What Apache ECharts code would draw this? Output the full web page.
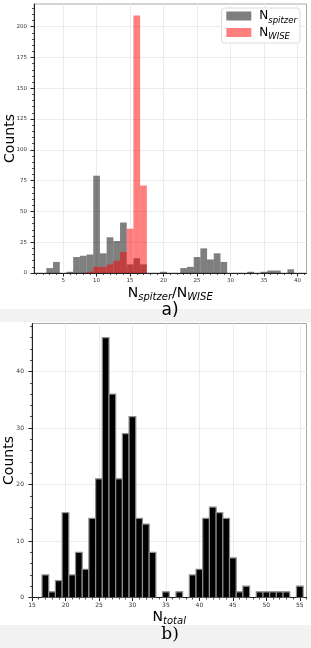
<!DOCTYPE html>
<html><head><meta charset="utf-8">
<script src="https://cdn.jsdelivr.net/npm/echarts@6/dist/echarts.min.js"></script>
<style>html,body{margin:0;padding:0;background:#fff}#c{width:311px;height:648px}</style>
</head><body><div id="c"></div>
<script>
// ---------- Panel a) : N_spitzer / N_WISE histogram (bin width 1, centres) ----------
const binWidth = 1;
const binsA = [3,4,5,6,7,8,9,10,11,12,13,14,15,16,17,18,19,20,21,22,23,24,25,26,27,28,29,30,31,32,33,34,35,36,37,38,39];
const spitzerCounts = [4,9,0,1,13,14,15,79,16,29,26,41,7,12,7,0,0,1,0,0,4,5,13,20,11,16,9,0,0,0,1,0,1,2,2,0,3];
const wiseBins = [9,10,11,12,13,14,15,16,17];
const wiseCounts = [1,5,5,7,10,17,36,209,71];

// ---------- Panel b) : N_total histogram ----------
const binsB = [17,18,19,20,21,22,23,24,25,26,27,28,29,30,31,32,33,34,35,36,37,38,39,40,41,42,43,44,45,46,47,48,49,50,51,52,53,54,55];
const totalCounts = [4,1,3,15,4,8,5,14,21,46,36,21,29,32,14,13,8,0,1,0,1,0,4,5,14,16,15,14,7,1,2,0,1,1,1,1,1,0,2];

// ---------- tick labels ----------
const topXTicks = [5,10,15,20,25,30,35,40];
const topYTicks = [0,25,50,75,100,125,150,175,200];
const botXTicks = [15,20,25,30,35,40,45,50,55];
const botYTicks = [0,10,20,30,40];

function minorList(a, b, step, majorStep) {
  const out = [];
  for (let v = a; v <= b + 1e-9; v += step) {
    const r = Math.round(v * 1000) / 1000;
    if (Math.abs(r / majorStep - Math.round(r / majorStep)) > 1e-6) out.push(r);
  }
  return out;
}

const FONT = 'DejaVu Sans';
const AXC = '#222';

function mainAxis(gridIndex, min, max, interval, majors, labelSize, margin, extra) {
  return Object.assign({
    gridIndex, type: 'value', min, max, interval,
    nameMoveOverlap: false,
    axisLine: { show: true, onZero: false, lineStyle: { color: AXC, width: 1 } },
    axisTick: { show: true, inside: false, length: 3.5, customValues: majors, lineStyle: { color: AXC, width: 1 } },
    axisLabel: { show: true, customValues: majors, fontSize: labelSize, margin, color: '#333', fontFamily: FONT,
                 showMinLabel: true, showMaxLabel: true },
    splitLine: { show: true, lineStyle: { color: '#ececec', width: 1 } },
    minorTick: { show: false }
  }, extra || {});
}
function minorAxis(gridIndex, min, max, position, minors) {
  return {
    gridIndex, type: 'value', min, max, position, offset: 0,
    axisLine: { show: false, onZero: false },
    axisTick: { show: true, inside: false, length: 2, customValues: minors, lineStyle: { color: AXC, width: 0.8 } },
    axisLabel: { show: false },
    splitLine: { show: false }
  };
}

const subRich = (big, small, lh) => ({
  n: { fontSize: big, lineHeight: lh, fontFamily: FONT, color: '#000' },
  s: { fontSize: small, lineHeight: lh - 6, verticalAlign: 'bottom', fontStyle: 'italic', fontFamily: FONT, color: '#000' }
});

const A = { xmin: 0.65, xmax: 41.35, ymin: 0, ymax: 218.4 };
const B = { xmin: 15, xmax: 56, ymin: 0, ymax: 48.5 };

function histRender(fill, stroke, lw) {
  return function (params, api) {
    const x = api.value(0), c = api.value(1);
    if (!c) return null;
    const tl = api.coord([x - binWidth / 2, c]);
    const br = api.coord([x + binWidth / 2, 0]);
    return {
      type: 'rect',
      shape: { x: tl[0], y: tl[1], width: br[0] - tl[0], height: br[1] - tl[1] },
      style: { fill: fill, stroke: stroke, lineWidth: lw }
    };
  };
}

const chart = echarts.init(document.getElementById('c'), null, { renderer: 'canvas' });
chart.setOption({
  animation: false,
  backgroundColor: '#fff',
  grid: [
    { left: 34, top: 4, width: 272.5, height: 269, containLabel: false, outerBoundsMode: 'none',
      show: true, borderColor: '#a8a8a8', borderWidth: 1, backgroundColor: 'transparent' },
    { left: 32, top: 323.5, width: 274.5, height: 274, containLabel: false, outerBoundsMode: 'none',
      show: true, borderColor: '#a8a8a8', borderWidth: 1, backgroundColor: 'transparent' }
  ],
  xAxis: [
    mainAxis(0, A.xmin, A.xmax, 5, topXTicks, 5.5, 5, {
      position: 'bottom',
      name: '{n|N}{s|spitzer}{n|/N}{s|WISE}', nameLocation: 'middle', nameGap: 11,
      nameTextStyle: { rich: subRich(14, 10, 18) }
    }),
    minorAxis(0, A.xmin, A.xmax, 'bottom', minorList(1, 41, 1, 5)),
    mainAxis(1, B.xmin, B.xmax, 5, botXTicks, 6, 4.5, {
      position: 'bottom',
      name: '{n|N}{s|total}', nameLocation: 'middle', nameGap: 10.5,
      nameTextStyle: { rich: subRich(14, 10, 18) }
    }),
    minorAxis(1, B.xmin, B.xmax, 'bottom', minorList(15, 56, 1, 5))
  ],
  yAxis: [
    mainAxis(0, A.ymin, A.ymax, 25, topYTicks, 5.5, 7, {
      position: 'left',
      name: 'Counts', nameLocation: 'middle', nameGap: 17, nameRotate: 90,
      nameTextStyle: { fontSize: 14, fontFamily: FONT, color: '#000' }
    }),
    minorAxis(0, A.ymin, A.ymax, 'left', minorList(5, 215, 5, 25)),
    mainAxis(1, B.ymin, B.ymax, 10, botYTicks, 6, 8, {
      position: 'left',
      name: 'Counts', nameLocation: 'middle', nameGap: 15.5, nameRotate: 90,
      nameTextStyle: { fontSize: 14, fontFamily: FONT, color: '#000' }
    }),
    minorAxis(1, B.ymin, B.ymax, 'left', minorList(2, 48, 2, 10))
  ],
  legend: {
    top: 8, right: 11, orient: 'vertical', selectedMode: false,
    itemWidth: 25, itemHeight: 9, itemGap: 1.5,
    padding: [2, 3, 1.5, 4.7],
    backgroundColor: '#fff', borderColor: '#dcdcdc', borderWidth: 1, borderRadius: 3,
    data: [
      { name: 'spitzer', icon: 'rect', itemStyle: { color: 'rgba(0,0,0,0.5)' } },
      { name: 'WISE', icon: 'rect', itemStyle: { color: 'rgba(255,0,0,0.5)' } }
    ],
    formatter: function (n) { return '{n|N}{s|' + n + '}'; },
    textStyle: {
      fontFamily: FONT, color: '#000',
      rich: {
        n: { fontSize: 12, lineHeight: 18, padding: [0, 0, 0, 3], fontFamily: FONT, color: '#000' },
        s: { fontSize: 8.5, lineHeight: 12, verticalAlign: 'bottom', fontStyle: 'italic', fontFamily: FONT, color: '#000' }
      }
    }
  },
  graphic: {
    elements: [
      { type: 'rect', shape: { x: 0, y: 309, width: 311, height: 13 }, style: { fill: '#f2f2f2' }, z: -10 },
      { type: 'rect', shape: { x: 0, y: 625, width: 311, height: 23 }, style: { fill: '#f2f2f2' }, z: -10 },
      { type: 'text', x: 170, y: 311, style: { text: 'a)', align: 'center', verticalAlign: 'middle', fontSize: 17, fontFamily: FONT, fill: '#000' } },
      { type: 'text', x: 170, y: 635, style: { text: 'b)', align: 'center', verticalAlign: 'middle', fontSize: 17, fontFamily: 'DejaVu Serif', fill: '#000' } }
    ]
  },
  series: [
    {
      name: 'spitzer', type: 'custom', xAxisIndex: 0, yAxisIndex: 0, clip: true,
      itemStyle: { color: 'rgba(0,0,0,0.5)' },
      encode: { x: 0, y: 1 },
      data: binsA.map((b, i) => [b, spitzerCounts[i]]),
      renderItem: histRender('rgba(0,0,0,0.5)', null, 0)
    },
    {
      name: 'WISE', type: 'custom', xAxisIndex: 0, yAxisIndex: 0, clip: true,
      itemStyle: { color: 'rgba(255,0,0,0.5)' },
      encode: { x: 0, y: 1 },
      data: wiseBins.map((b, i) => [b, wiseCounts[i]]),
      renderItem: histRender('rgba(255,0,0,0.5)', null, 0)
    },
    {
      name: 'total', type: 'custom', xAxisIndex: 2, yAxisIndex: 2, clip: true,
      itemStyle: { color: '#000' },
      encode: { x: 0, y: 1 },
      data: binsB.map((b, i) => [b, totalCounts[i]]),
      renderItem: histRender('#000', '#8c8c8c', 1.2)
    }
  ]
});
</script>
</body></html>
